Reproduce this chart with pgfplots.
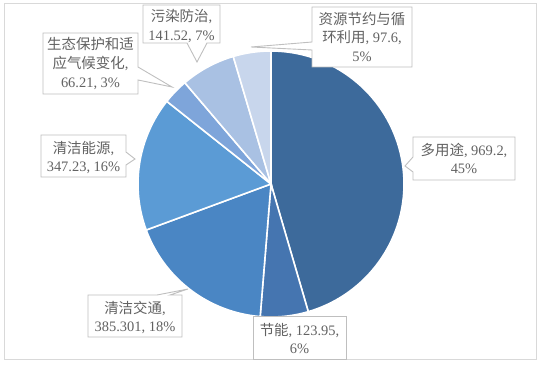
\documentclass[border=0pt]{standalone}
\usepackage{fontspec}
\setmainfont{Liberation Serif}
\newfontfamily\cjk{Noto Sans CJK SC}
\usepackage{pgfplots}
\pgfplotsset{compat=1.18}

\definecolor{cA}{HTML}{3D6A9B}
\definecolor{cB}{HTML}{4575B0}
\definecolor{cC}{HTML}{4A86C4}
\definecolor{cD}{HTML}{5B9BD5}
\definecolor{cE}{HTML}{7EA5DA}
\definecolor{cF}{HTML}{A9C1E3}
\definecolor{cG}{HTML}{C8D6EC}
\definecolor{boxC}{HTML}{BFBFBF}
\definecolor{frameC}{HTML}{D9D9D9}
\definecolor{txtC}{HTML}{626262}

% data values (clockwise from top)
\def\vA{969.2}   % 多用途
\def\vB{123.95}  % 节能
\def\vC{385.301} % 清洁交通
\def\vD{347.23}  % 清洁能源
\def\vE{66.21}   % 生态保护和适应气候变化
\def\vF{141.52}  % 污染防治
\def\vG{97.6}    % 资源节约与循环利用
\pgfmathsetmacro\tot{\vA+\vB+\vC+\vD+\vE+\vF+\vG}
\pgfmathsetmacro\aA{90}
\pgfmathsetmacro\aB{\aA-360*(\vA/\tot)}
\pgfmathsetmacro\aC{\aB-360*(\vB/\tot)}
\pgfmathsetmacro\aD{\aC-360*(\vC/\tot)}
\pgfmathsetmacro\aE{\aD-360*(\vD/\tot)}
\pgfmathsetmacro\aF{\aE-360*(\vE/\tot)}
\pgfmathsetmacro\aG{\aF-360*(\vF/\tot)}
\pgfmathsetmacro\aH{\aG-360*(\vG/\tot)}

\begin{document}
\begin{tikzpicture}
\begin{axis}[width=548bp, height=375bp, scale only axis,
  xmin=0, xmax=548, ymin=0, ymax=375, hide axis, clip=false]
\path (axis cs:0,0) rectangle (axis cs:548,375);
\draw[frameC, line width=1pt] (axis cs:4,371) rectangle (axis cs:536,16);

\pgfplotsset{slice/.style={draw=white, line width=1.6pt, samples=90}}
\addplot[slice, fill=cA, domain=\aB:\aA] ({271+133*cos(x)},{191+133*sin(x)}) -- (axis cs:271,191) -- cycle;
\addplot[slice, fill=cB, domain=\aC:\aB] ({271+133*cos(x)},{191+133*sin(x)}) -- (axis cs:271,191) -- cycle;
\addplot[slice, fill=cC, domain=\aD:\aC] ({271+133*cos(x)},{191+133*sin(x)}) -- (axis cs:271,191) -- cycle;
\addplot[slice, fill=cD, domain=\aE:\aD] ({271+133*cos(x)},{191+133*sin(x)}) -- (axis cs:271,191) -- cycle;
\addplot[slice, fill=cE, domain=\aF:\aE] ({271+133*cos(x)},{191+133*sin(x)}) -- (axis cs:271,191) -- cycle;
\addplot[slice, fill=cF, domain=\aG:\aF] ({271+133*cos(x)},{191+133*sin(x)}) -- (axis cs:271,191) -- cycle;
\addplot[slice, fill=cG, domain=\aH:\aG] ({271+133*cos(x)},{191+133*sin(x)}) -- (axis cs:271,191) -- cycle;

% callout boxes
\tikzset{cbox/.style={fill=white, draw=boxC, line width=0.9pt, line join=miter}}
\filldraw[cbox] (axis cs:312,368) -- (axis cs:412,368) -- (axis cs:412,308) -- (axis cs:312,308) -- (axis cs:312,325) -- (axis cs:251,328) -- (axis cs:312,333) -- cycle;
\filldraw[cbox] (axis cs:413,238) -- (axis cs:515,238) -- (axis cs:515,195) -- (axis cs:413,195) -- (axis cs:413,203) -- (axis cs:405,209) -- (axis cs:413,218) -- cycle;
\filldraw[cbox] (axis cs:253,59) rectangle (axis cs:346,16);
\filldraw[cbox] (axis cs:88,80) -- (axis cs:157,80) -- (axis cs:188,86) -- (axis cs:170,80) -- (axis cs:182,80) -- (axis cs:182,38) -- (axis cs:88,38) -- cycle;
\filldraw[cbox] (axis cs:41,240) -- (axis cs:126,240) -- (axis cs:126,223) -- (axis cs:135,216) -- (axis cs:126,210) -- (axis cs:126,198) -- (axis cs:41,198) -- cycle;
\filldraw[cbox] (axis cs:43,342) -- (axis cs:138,342) -- (axis cs:138,308) -- (axis cs:172,288) -- (axis cs:138,295) -- (axis cs:138,281) -- (axis cs:43,281) -- cycle;
\filldraw[cbox] (axis cs:143,370) -- (axis cs:220,370) -- (axis cs:220,332) -- (axis cs:207,332) -- (axis cs:197,313) -- (axis cs:187,332) -- (axis cs:143,332) -- cycle;

\tikzset{lbl/.style={align=center, text=txtC, inner sep=0pt, font=\fontsize{14.5}{19}\selectfont}}
\node[lbl] at (axis cs:362,338) {{\cjk 资源节约与循}\\{\cjk 环利用}, 97.6,\\5\%};
\node[lbl] at (axis cs:464,216.5) {{\cjk 多用途}, 969.2,\\45\%};
\node[lbl] at (axis cs:299.5,36.5) {{\cjk 节能}, 123.95,\\6\%};
\node[lbl] at (axis cs:135,57.5) {{\cjk 清洁交通},\\385.301, 18\%};
\node[lbl] at (axis cs:83.5,217.5) {{\cjk 清洁能源},\\347.23, 16\%};
\node[lbl] at (axis cs:90.5,311.5) {{\cjk 生态保护和适}\\{\cjk 应气候变化},\\66.21, 3\%};
\node[lbl] at (axis cs:181.5,349) {{\cjk 污染防治},\\141.52, 7\%};
\end{axis}
\end{tikzpicture}
\end{document}
